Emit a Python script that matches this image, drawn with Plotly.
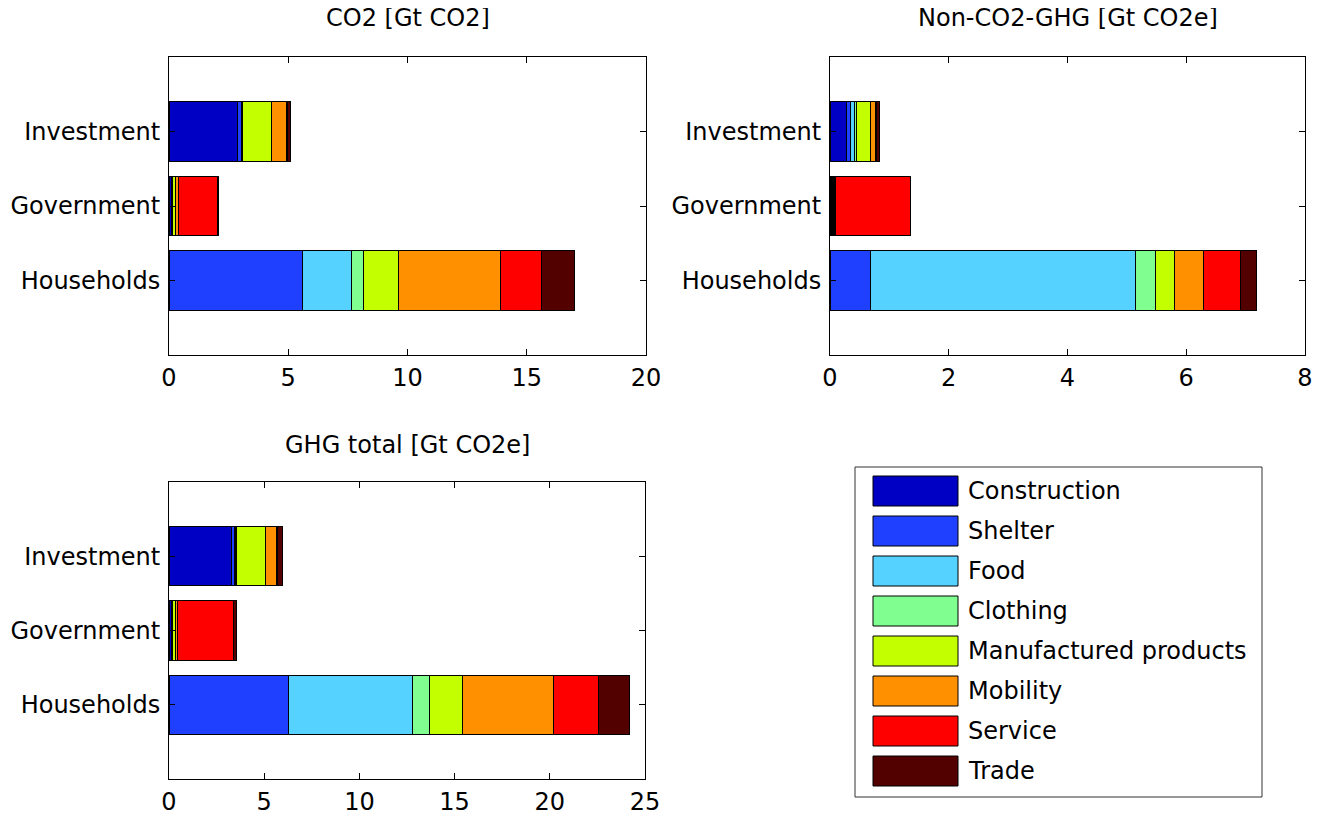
import plotly.graph_objects as go

# ---------------- data ----------------
sectors = ["Construction", "Shelter", "Food", "Clothing",
           "Manufactured products", "Mobility", "Service", "Trade"]
sector_colors = ["#0000C4", "#2040FF", "#55D2FF", "#80FF90",
                 "#C4FF00", "#FF9000", "#FF0000", "#520000"]
categories = ["Households", "Government", "Investment"]

panel_titles = ["CO2 [Gt CO2]", "Non-CO2-GHG [Gt CO2e]", "GHG total [Gt CO2e]"]

# values per category, in sector order
co2_households = [0.0, 5.58, 2.07, 0.52, 1.46, 4.28, 1.71, 1.37]
co2_government = [0.10, 0.03, 0.02, 0.01, 0.12, 0.12, 1.64, 0.03]
co2_investment = [2.88, 0.17, 0.02, 0.02, 1.21, 0.64, 0.04, 0.10]

nonco2_households = [0.0, 0.68, 4.46, 0.35, 0.32, 0.48, 0.63, 0.26]
nonco2_government = [0.02, 0.01, 0.02, 0.01, 0.02, 0.01, 1.26, 0.01]
nonco2_investment = [0.27, 0.07, 0.08, 0.02, 0.24, 0.09, 0.01, 0.05]

ghg_households = [0.0, 6.30, 6.48, 0.92, 1.69, 4.83, 2.34, 1.60]
ghg_government = [0.12, 0.03, 0.03, 0.01, 0.14, 0.13, 2.94, 0.12]
ghg_investment = [3.28, 0.15, 0.06, 0.03, 1.54, 0.60, 0.06, 0.25]

x_ticks_co2 = [0, 5, 10, 15, 20]
x_ticks_nonco2 = [0, 2, 4, 6, 8]
x_ticks_ghg = [0, 5, 10, 15, 20, 25]

# ---------------- layout geometry ----------------
# page body has an 8px margin, so the figure is drawn 8px in from the corner
OFF = 8
W, H = 1320 - 2 * OFF, 819 - 2 * OFF
FONT = "DejaVu Sans, Liberation Sans, Arial, sans-serif"
FS = 24


def px_x(p):
    return (p - OFF) / W


def px_y(p):
    return 1 - (p - OFF) / H


panels = [
    dict(title=panel_titles[0], data=[co2_households, co2_government, co2_investment],
         ticks=x_ticks_co2, xd=[px_x(169), px_x(646)], yd=[px_y(355), px_y(57)], ty=18),
    dict(title=panel_titles[1], data=[nonco2_households, nonco2_government, nonco2_investment],
         ticks=x_ticks_nonco2, xd=[px_x(830), px_x(1305)], yd=[px_y(355), px_y(57)], ty=18),
    dict(title=panel_titles[2], data=[ghg_households, ghg_government, ghg_investment],
         ticks=x_ticks_ghg, xd=[px_x(169), px_x(645)], yd=[px_y(779), px_y(482)], ty=445),
]

fig = go.Figure()
layout = dict(
    template="none",
    width=W, height=H,
    margin=dict(l=0, r=0, t=0, b=0, pad=0, autoexpand=False),
    paper_bgcolor="white", plot_bgcolor="white",
    barmode="stack", bargap=0.2,
    showlegend=False,
    font=dict(family=FONT, size=FS, color="black"),
)
annotations = []
shapes = []

for i, p in enumerate(panels):
    xa = "x" if i == 0 else f"x{i+1}"
    ya = "y" if i == 0 else f"y{i+1}"
    for s, (sec, col) in enumerate(zip(sectors, sector_colors)):
        vals = [p["data"][c][s] for c in range(len(categories))]
        fig.add_trace(go.Bar(
            x=vals, y=categories, orientation="h", name=sec,
            marker=dict(color=col, line=dict(color="black", width=1)),
            xaxis=xa, yaxis=ya, width=0.8,
        ))
    axis_common = dict(
        showline=True, linecolor="black", linewidth=1, mirror="ticks",
        ticks="inside", ticklen=6, tickcolor="black", tickwidth=1,
        showgrid=False, zeroline=False, automargin=False,
        ticklabeloverflow="allow",
        tickfont=dict(family=FONT, size=FS, color="black"),
    )
    xkey = "xaxis" if i == 0 else f"xaxis{i+1}"
    ykey = "yaxis" if i == 0 else f"yaxis{i+1}"
    layout[xkey] = dict(axis_common, domain=p["xd"], anchor=ya,
                        range=[p["ticks"][0], p["ticks"][-1]],
                        tickvals=p["ticks"], ticklabelstandoff=1)
    layout[ykey] = dict(axis_common, domain=p["yd"], anchor=xa,
                        type="category", categoryorder="array",
                        categoryarray=categories, range=[-1, 3],
                        ticklabelstandoff=3)
    annotations.append(dict(
        text=p["title"], xref="paper", yref="paper",
        x=(p["xd"][0] + p["xd"][1]) / 2, y=px_y(p["ty"]),
        xanchor="center", yanchor="middle", showarrow=False,
        font=dict(family=FONT, size=FS, color="black"),
    ))

# ---------------- legend (drawn as a box) ----------------
shapes.append(dict(type="rect", xref="paper", yref="paper",
                   x0=px_x(855), x1=px_x(1262), y0=px_y(797), y1=px_y(467),
                   line=dict(color="#333333", width=1), fillcolor="white", layer="below"))
row0, pitch = 491, 40
for k, (sec, col) in enumerate(zip(sectors, sector_colors)):
    yc = row0 + k * pitch
    shapes.append(dict(type="rect", xref="paper", yref="paper",
                       x0=px_x(873), x1=px_x(958), y0=px_y(yc + 15), y1=px_y(yc - 15),
                       line=dict(color="black", width=1), fillcolor=col))
    annotations.append(dict(
        text=sec, xref="paper", yref="paper", x=px_x(966), y=px_y(yc),
        xanchor="left", yanchor="middle", showarrow=False,
        font=dict(family=FONT, size=FS, color="black"),
    ))

layout["annotations"] = annotations
layout["shapes"] = shapes
fig.update_layout(**layout)
fig.write_html("out.html")
